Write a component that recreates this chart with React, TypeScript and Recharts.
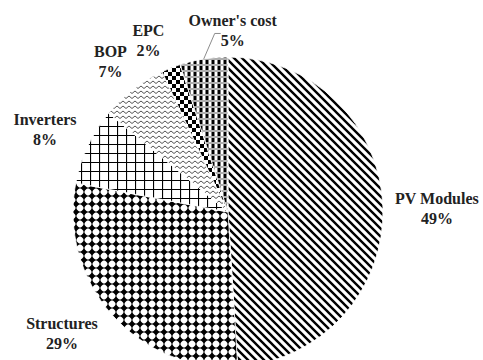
import React from 'react';
import { PieChart, Pie, Cell } from 'recharts';

const categories = ['PV Modules', 'Structures', 'Inverters', 'BOP', 'EPC', "Owner's cost"];
const shares = [49, 29, 8, 7, 2, 5];

const pieData = categories.map((name, i) => ({ name, value: shares[i] }));

const patternIds = ['pat-pv', 'pat-struct', 'pat-inv', 'pat-bop', 'pat-epc', 'pat-owner'];

const RADIAN = Math.PI / 180;
const SERIF = "'Liberation Serif', 'Times New Roman', Times, serif";

// nudges from the radial spot, the way the original labels were dragged around
const labelShift: Record<string, { dx: number; dy: number; leader?: boolean }> = {
  'PV Modules': { dx: 9, dy: 2 },
  'Structures': { dx: -16, dy: -11 },
  'Inverters': { dx: -2, dy: 2 },
  'BOP': { dx: 5, dy: 7 },
  'EPC': { dx: -6, dy: 14 },
  "Owner's cost": { dx: 36, dy: 16, leader: true },
};

const SliceLabel = (props: any) => {
  const { cx, cy, midAngle, outerRadius, percent, name } = props;
  const r = outerRadius + 45;
  const shift = labelShift[name] || { dx: 0, dy: 0 };
  const x = cx + r * Math.cos(-midAngle * RADIAN) + shift.dx;
  const y = cy + r * Math.sin(-midAngle * RADIAN) + shift.dy;
  const pct = `${Math.round(percent * 100)}%`;
  const ex = cx + outerRadius * Math.cos(-midAngle * RADIAN);
  const ey = cy + outerRadius * Math.sin(-midAngle * RADIAN);
  return (
    <g>
      {shift.leader && (
        <polyline
          points={`${ex},${ey} ${x - 18},${y + 3} ${x - 12},${y + 3}`}
          fill="none"
          stroke="#8c8c8c"
          strokeWidth={1}
        />
      )}
      <text
        x={x}
        y={y}
        textAnchor="middle"
        fontFamily={SERIF}
        fontWeight="bold"
        fontSize={16}
        fill="#222"
      >
        <tspan x={x} dy={-4}>{name}</tspan>
        <tspan x={x} dy={20}>{pct}</tspan>
      </text>
    </g>
  );
};

export default function App() {
  return (
    <div style={{ position: 'absolute', left: 0, top: 0, width: 483, height: 360, background: '#fff' }}>
      <PieChart width={483} height={360} margin={{ top: 0, right: 0, bottom: 0, left: 0 }}>
        <defs>
          <pattern id="pat-pv" width={8} height={8} patternUnits="userSpaceOnUse">
            <rect width={8} height={8} fill="#fff" />
            <path d="M-2,-2 L10,10 M-2,6 L2,10 M6,-2 L10,2" stroke="#000" strokeWidth={2.4} />
          </pattern>
          <pattern id="pat-struct" width={8} height={8} patternUnits="userSpaceOnUse">
            <rect width={8} height={8} fill="#fff" />
            <path d="M0,4 L8,4 M4,0 L4,8" stroke="#000" strokeWidth={1} />
            <path d="M4,0.6 L7.4,4 L4,7.4 L0.6,4 Z" fill="#000" />
          </pattern>
          <pattern id="pat-inv" width={9} height={9} patternUnits="userSpaceOnUse">
            <rect width={9} height={9} fill="#fff" />
            <path d="M0,0.5 L9,0.5 M0.5,0 L0.5,9" stroke="#000" strokeWidth={1.2} />
          </pattern>
          <pattern id="pat-bop" width={6} height={5} patternUnits="userSpaceOnUse">
            <rect width={6} height={5} fill="#fff" />
            <path d="M0,3.5 L3,1 L6,3.5" fill="none" stroke="#555" strokeWidth={1} />
          </pattern>
          <pattern id="pat-epc" width={8} height={8} patternUnits="userSpaceOnUse">
            <rect width={8} height={8} fill="#fff" />
            <rect x={0} y={0} width={4} height={4} fill="#000" />
            <rect x={4} y={4} width={4} height={4} fill="#000" />
          </pattern>
          <pattern id="pat-owner" width={6} height={6} patternUnits="userSpaceOnUse">
            <rect width={6} height={6} fill="#fff" />
            <rect x={1.5} y={0} width={3} height={4} fill="#000" />
            <path d="M0,5 L6,5" stroke="#777" strokeWidth={1.2} />
          </pattern>
        </defs>
        <Pie
          data={pieData}
          dataKey="value"
          nameKey="name"
          cx={228}
          cy={212}
          outerRadius={155}
          startAngle={90}
          endAngle={-270}
          stroke="#fff"
          strokeWidth={0.8}
          label={SliceLabel}
          labelLine={false}
          isAnimationActive={false}
        >
          {pieData.map((entry, i) => (
            <Cell key={entry.name} fill={`url(#${patternIds[i]})`} />
          ))}
        </Pie>
      </PieChart>
    </div>
  );
}
